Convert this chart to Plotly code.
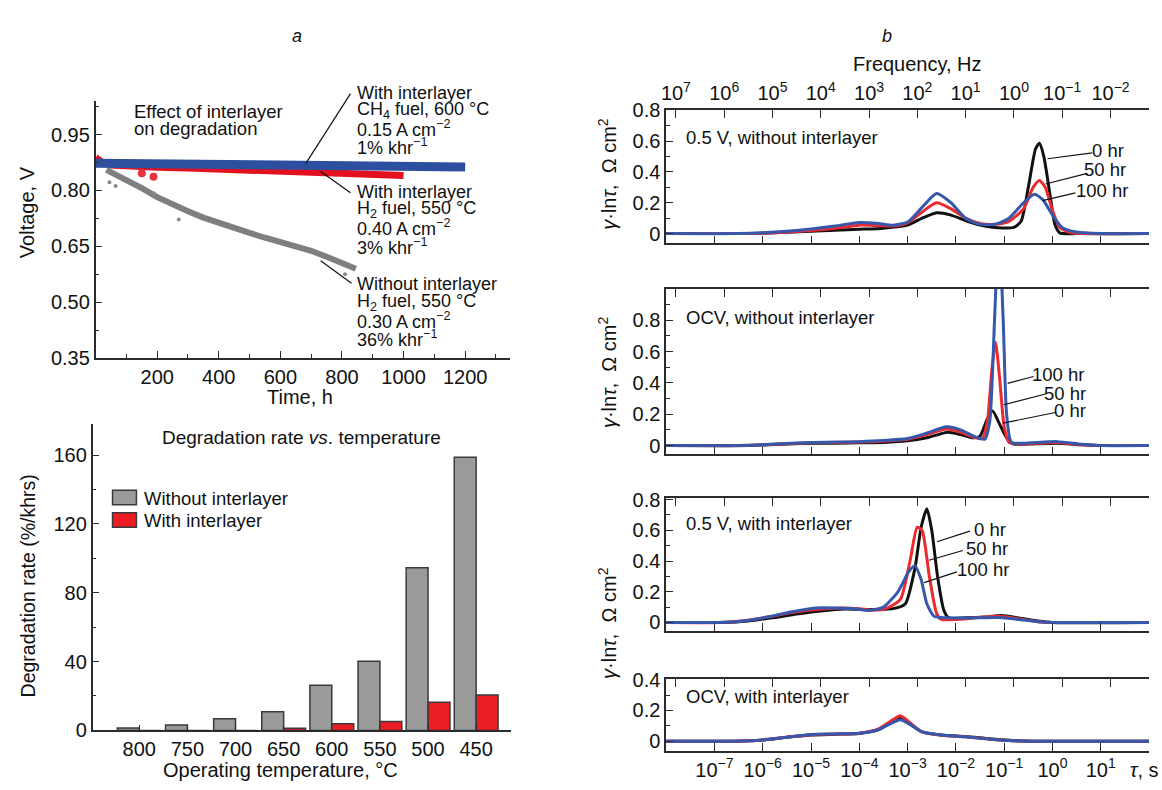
import numpy as np
import plotly.graph_objects as go

W, H = 1162, 790
def px(x): return x / W
def py(y): return 1 - y / H

FONT = "Liberation Sans, Arial, sans-serif"
AX = "#2b2b2b"

# ---------------- Panel a (top): voltage vs time ----------------
t_ch4 = [0, 100, 200, 300, 400, 500, 600, 700, 800, 900, 1000, 1100, 1200]
v_ch4 = [0.873, 0.872, 0.872, 0.871, 0.871, 0.870, 0.869, 0.868, 0.867, 0.866, 0.865, 0.864, 0.863]

t_h2_with = [0, 20, 50, 100, 200, 300, 400, 500, 600, 700, 800, 900, 1000]
v_h2_with = [0.888, 0.876, 0.868, 0.865, 0.862, 0.860, 0.857, 0.855, 0.852, 0.849, 0.846, 0.843, 0.840]
t_h2_with_out = [150, 188]
v_h2_with_out = [0.846, 0.837]

t_without = [35, 60, 80, 100, 150, 200, 250, 300, 350, 400, 450, 500, 550, 600, 650, 700, 750, 800, 845]
v_without = [0.855, 0.845, 0.838, 0.830, 0.806, 0.782, 0.761, 0.744, 0.727, 0.712, 0.698, 0.686, 0.673, 0.662, 0.650, 0.638, 0.622, 0.606, 0.590]
t_without_out = [45, 65, 190, 270, 810]
v_without_out = [0.822, 0.812, 0.792, 0.722, 0.575]

# ---------------- Panel a (bottom): degradation rate ----------------
temps = ["800", "750", "700", "650", "600", "550", "500", "450"]
rate_without = [1.4, 3.2, 6.8, 10.9, 26.2, 40.2, 94.5, 158.8]
rate_with = [0.0, 0.0, 0.0, 1.3, 3.8, 5.1, 16.4, 20.5]

# ---------------- Panel b: DRT curves (log10 tau, value) ----------------
# 0.5 V, without interlayer
p1_black_lt = [-8, -6.5, -6, -5, -4.5, -4, -3.5, -3, -2.7, -2.4, -2.1, -1.8, -1.5, -1.2, -0.8, -0.65, -0.5, -0.35, -0.27, -0.18, -0.05, 0.05, 0.15, 0.5, 2]
p1_black_v = [0, 0, 0.003, 0.015, 0.022, 0.028, 0.035, 0.055, 0.10, 0.135, 0.12, 0.085, 0.055, 0.04, 0.04, 0.08, 0.30, 0.55, 0.585, 0.50, 0.25, 0.06, 0.005, 0, 0]
p1_red_lt = [-8, -6.3, -6, -5.5, -5, -4.5, -4, -3.6, -3.3, -3.0, -2.7, -2.4, -2.1, -1.8, -1.5, -1.2, -0.9, -0.6, -0.4, -0.27, -0.15, 0, 0.15, 0.4, 0.7, 2]
p1_red_v = [0, 0, 0.003, 0.01, 0.02, 0.035, 0.055, 0.052, 0.05, 0.07, 0.14, 0.20, 0.16, 0.10, 0.065, 0.06, 0.08, 0.16, 0.30, 0.345, 0.30, 0.15, 0.04, 0.005, 0, 0]
p1_blue_lt = [-8, -6.5, -6, -5.5, -5, -4.5, -4.0, -3.6, -3.3, -3.0, -2.7, -2.4, -2.1, -1.8, -1.5, -1.2, -0.9, -0.6, -0.37, -0.2, 0, 0.2, 0.5, 1, 2]
p1_blue_v = [0, 0, 0.005, 0.015, 0.03, 0.05, 0.072, 0.065, 0.055, 0.075, 0.17, 0.26, 0.20, 0.10, 0.06, 0.06, 0.10, 0.20, 0.255, 0.22, 0.12, 0.04, 0.01, 0, 0]

# OCV, without interlayer
p2_black_lt = [-8, -6.5, -6, -5.5, -5, -4.5, -4, -3.5, -3, -2.6, -2.17, -1.9, -1.65, -1.5, -1.35, -1.24, -1.1, -0.95, -0.8, -0.5, 0.1, 0.6, 1.0, 2]
p2_black_v = [0, 0, 0.003, 0.01, 0.015, 0.015, 0.018, 0.02, 0.03, 0.05, 0.085, 0.07, 0.05, 0.06, 0.17, 0.22, 0.14, 0.05, 0.01, 0.01, 0.015, 0.005, 0, 0]
p2_red_lt = [-8, -6.3, -6, -5.5, -5, -4.5, -4, -3.5, -3, -2.6, -2.2, -1.9, -1.6, -1.45, -1.35, -1.25, -1.18, -1.1, -1.0, -0.9, -0.6, 0.1, 0.6, 1, 2]
p2_red_v = [0, 0, 0.005, 0.012, 0.018, 0.02, 0.022, 0.028, 0.04, 0.07, 0.105, 0.085, 0.05, 0.045, 0.15, 0.50, 0.66, 0.45, 0.12, 0.02, 0.01, 0.02, 0.005, 0, 0]
p2_blue_lt = [-8, -6.3, -6, -5.5, -5, -4.5, -4, -3.5, -3, -2.6, -2.2, -1.9, -1.6, -1.4, -1.3, -1.2, -1.11, -1.02, -0.95, -0.85, -0.6, 0.1, 0.6, 1, 2]
p2_blue_v = [0, 0, 0.005, 0.013, 0.02, 0.022, 0.025, 0.032, 0.045, 0.08, 0.12, 0.10, 0.055, 0.04, 0.15, 0.80, 1.40, 0.80, 0.20, 0.02, 0.015, 0.025, 0.008, 0, 0]

# 0.5 V, with interlayer
p3_black_lt = [-8, -6.8, -6.3, -5.8, -5.3, -4.8, -4.3, -3.9, -3.6, -3.3, -3.05, -2.85, -2.72, -2.6, -2.5, -2.38, -2.25, -2.15, -1.8, -1.4, -1.05, -0.7, -0.3, 0, 2]
p3_black_v = [0, 0, 0.01, 0.03, 0.055, 0.075, 0.088, 0.085, 0.085, 0.09, 0.12, 0.35, 0.62, 0.74, 0.60, 0.30, 0.08, 0.03, 0.03, 0.035, 0.045, 0.03, 0.01, 0, 0]
p3_red_lt = [-8, -6.9, -6.4, -5.9, -5.4, -4.9, -4.4, -4.0, -3.75, -3.45, -3.15, -2.95, -2.8, -2.7, -2.55, -2.4, -2.3, -2.0, -1.6, -1.1, -0.7, -0.3, 0, 2]
p3_red_v = [0, 0, 0.012, 0.035, 0.065, 0.085, 0.095, 0.09, 0.08, 0.09, 0.15, 0.40, 0.62, 0.60, 0.30, 0.06, 0.02, 0.02, 0.03, 0.04, 0.025, 0.005, 0, 0]
p3_blue_lt = [-8, -6.9, -6.4, -5.9, -5.4, -4.9, -4.5, -4.1, -3.8, -3.5, -3.2, -2.98, -2.85, -2.72, -2.6, -2.45, -2.2, -1.6, -1.1, -0.7, -0.3, 0, 2]
p3_blue_v = [0, 0, 0.01, 0.035, 0.07, 0.095, 0.095, 0.09, 0.078, 0.10, 0.20, 0.33, 0.37, 0.28, 0.12, 0.04, 0.03, 0.03, 0.032, 0.02, 0.005, 0, 0]

# OCV, with interlayer
p4_black_lt = [-8, -6.6, -6, -5.5, -5, -4.5, -4, -3.6, -3.35, -3.15, -2.95, -2.7, -2.3, -1.8, -1.3, -0.8, -0.4, 2]
p4_black_v = [0, 0, 0.008, 0.025, 0.04, 0.045, 0.05, 0.075, 0.12, 0.15, 0.11, 0.06, 0.04, 0.03, 0.015, 0.003, 0, 0]
p4_red_lt = [-8, -6.6, -6, -5.5, -5, -4.5, -4, -3.6, -3.35, -3.15, -2.95, -2.7, -2.3, -1.8, -1.3, -0.8, -0.4, 2]
p4_red_v = [0, 0, 0.008, 0.026, 0.042, 0.046, 0.052, 0.08, 0.13, 0.165, 0.12, 0.06, 0.038, 0.028, 0.012, 0.002, 0, 0]
p4_blue_lt = [-8, -6.6, -6, -5.5, -5, -4.5, -4, -3.6, -3.35, -3.15, -2.95, -2.7, -2.3, -1.8, -1.3, -0.8, -0.4, 2]
p4_blue_v = [0, 0, 0.008, 0.026, 0.043, 0.047, 0.052, 0.075, 0.115, 0.14, 0.11, 0.06, 0.04, 0.028, 0.013, 0.003, 0, 0]

tau_tick_exp = [-7, -6, -5, -4, -3, -2, -1, 0, 1]
freq_tick_exp = [7, 6, 5, 4, 3, 2, 1, 0, -1, -2]

def sup(e):
    s = str(e).replace("-", "\u2212")
    return f"10<sup>{s}</sup>"

C_BLACK = "#111111"
C_RED = "#ec2a2e"
C_BLUE = "#3558ad"

fig = go.Figure()

# ---- scatter panel
fig.add_trace(go.Scatter(x=t_h2_with, y=v_h2_with, mode="lines", line=dict(color="#e3101f", width=7),
                         xaxis="x", yaxis="y", showlegend=False, hoverinfo="skip"))
fig.add_trace(go.Scatter(x=t_h2_with_out, y=v_h2_with_out, mode="markers", marker=dict(color="#e8323a", size=8),
                         xaxis="x", yaxis="y", showlegend=False, hoverinfo="skip"))
fig.add_trace(go.Scatter(x=t_ch4, y=v_ch4, mode="lines", line=dict(color="#2d4f9f", width=9),
                         xaxis="x", yaxis="y", showlegend=False, hoverinfo="skip"))
fig.add_trace(go.Scatter(x=t_without, y=v_without, mode="lines", line=dict(color="#7f7f7f", width=6),
                         xaxis="x", yaxis="y", showlegend=False, hoverinfo="skip"))
fig.add_trace(go.Scatter(x=t_without_out, y=v_without_out, mode="markers", marker=dict(color="#8a8a8a", size=4),
                         xaxis="x", yaxis="y", showlegend=False, hoverinfo="skip"))

# ---- bar panel
fig.add_trace(go.Bar(x=temps, y=rate_without, marker=dict(color="#9a9a9a", line=dict(color="#3a3a3a", width=1.5)),
                     xaxis="x2", yaxis="y2", showlegend=False, hoverinfo="skip"))
fig.add_trace(go.Bar(x=temps, y=rate_with, marker=dict(color="#ec1c24", line=dict(color="#3a3a3a", width=1.5)),
                     xaxis="x2", yaxis="y2", showlegend=False, hoverinfo="skip"))

# ---- DRT panels
panels = [
    (p1_black_lt, p1_black_v, p1_red_lt, p1_red_v, p1_blue_lt, p1_blue_v),
    (p2_black_lt, p2_black_v, p2_red_lt, p2_red_v, p2_blue_lt, p2_blue_v),
    (p3_black_lt, p3_black_v, p3_red_lt, p3_red_v, p3_blue_lt, p3_blue_v),
    (p4_black_lt, p4_black_v, p4_red_lt, p4_red_v, p4_blue_lt, p4_blue_v),
]
for i, (bl, bv, rl, rv, ul, uv) in enumerate(panels):
    xa, ya = f"x{i+3}", f"y{i+3}"
    for lt, v, c in [(bl, bv, C_BLACK), (rl, rv, C_RED), (ul, uv, C_BLUE)]:
        fig.add_trace(go.Scatter(x=10 ** np.array(lt, dtype=float), y=v, mode="lines",
                                 line=dict(color=c, width=3, shape="spline", smoothing=0.6),
                                 xaxis=xa, yaxis=ya, showlegend=False, hoverinfo="skip", cliponaxis=True))
    # dummy trace for top (frequency) axis
    fig.add_trace(go.Scatter(x=[1e-8, 1e2], y=[None, None], mode="lines", xaxis=f"x{i+7}", yaxis=ya,
                             showlegend=False, hoverinfo="skip"))

tick_font = dict(family=FONT, size=20, color="#111")

common = dict(showgrid=False, zeroline=False, showline=True, linecolor=AX, linewidth=1.5,
              ticks="inside", tickcolor=AX, tickwidth=1.3, tickfont=tick_font)

layout = dict(
    width=W, height=H, autosize=False,
    margin=dict(l=0, r=0, t=0, b=0),
    paper_bgcolor="white", plot_bgcolor="rgba(0,0,0,0)",
    font=dict(family=FONT, size=18, color="#111"),
    barmode="group", bargap=0.09, bargroupgap=0.0,
    xaxis=dict(domain=[px(91), px(507)], anchor="y", range=[0, 1345],
               tickvals=[200, 400, 600, 800, 1000, 1200], ticklen=7,
               minor=dict(tickvals=[100, 300, 500, 700, 900, 1100, 1300], ticks="inside", ticklen=4, tickcolor=AX),
               **common),
    yaxis=dict(domain=[py(357), py(93)], anchor="x", range=[0.35, 1.039],
               tickvals=[0.35, 0.5, 0.65, 0.8, 0.95], ticktext=["0.35", "0.50", "0.65", "0.80", "0.95"], ticklen=7,
               minor=dict(tickvals=[0.425, 0.575, 0.725, 0.875, 1.025], ticks="inside", ticklen=4, tickcolor=AX),
               **common),
    xaxis2=dict(domain=[px(88), px(508)], anchor="y2", type="category", range=[-0.97, 7.72], ticklen=6,
                **common),
    yaxis2=dict(domain=[py(740), py(425)], anchor="x2", range=[0, 178],
                tickvals=[0, 40, 80, 120, 160], ticklen=7,
                minor=dict(tickvals=[20, 60, 100, 140], ticks="inside", ticklen=4, tickcolor=AX),
                **common),
)

panel_y = [(102, 239), (286, 456), (501, 638), (687, 761)]
panel_range = [(-0.063, 0.8), (-0.056, 1.0), (-0.057, 0.81), (-0.063, 0.406)]
panel_ticks = [[0, 0.2, 0.4, 0.6, 0.8], [0, 0.2, 0.4, 0.6, 0.8], [0, 0.2, 0.4, 0.6, 0.8], [0, 0.2, 0.4]]
panel_minor = [[0.1, 0.3, 0.5, 0.7], [0.1, 0.3, 0.5, 0.7, 0.9, 1.0], [0.1, 0.3, 0.5, 0.7], [0.1, 0.3]]

tau_vals = [10.0 ** e for e in tau_tick_exp]
freq_pos = [1.0 / (2 * np.pi * 10.0 ** e) for e in freq_tick_exp]

for i in range(4):
    y0, y1 = panel_y[i]
    n = i + 3
    layout[f"xaxis{n}"] = dict(domain=[px(664), px(1149)], anchor=f"y{n}", type="log", range=[-8, 2],
                               tickvals=tau_vals, ticktext=[sup(e) for e in tau_tick_exp],
                               showticklabels=(i == 3), ticklen=8, **common)
    layout[f"xaxis{n+4}"] = dict(overlaying=f"x{n}", anchor=f"y{n}", side="top", type="log", range=[-8, 2],
                                 tickvals=freq_pos, ticktext=[sup(e) for e in freq_tick_exp],
                                 showticklabels=(i == 0), ticklen=8, **common)
    layout[f"yaxis{n}"] = dict(domain=[py(y1), py(y0)], anchor=f"x{n}", range=list(panel_range[i]),
                               tickvals=panel_ticks[i], ticktext=["0" if v == 0 else f"{v:.1f}" for v in panel_ticks[i]],
                               ticklen=7,
                               minor=dict(tickvals=panel_minor[i], ticks="inside", ticklen=4, tickcolor=AX),
                               **common)

fig.update_layout(**layout)

ann = []
def text(x, y, s, size=18.5, xanchor="left", yanchor="middle", angle=0, italic=False):
    ann.append(dict(x=px(x), y=py(y), xref="paper", yref="paper", text=s, showarrow=False,
                    xanchor=xanchor, yanchor=yanchor, textangle=angle,
                    font=dict(family=FONT, size=size, color="#111",
                              style="italic" if italic else "normal")))

# panel letters
text(293, 26, "a", size=18, xanchor="center", italic=True)
text(886, 26, "b", size=18, xanchor="center", italic=True)

# scatter panel texts
text(128, 103, "Effect of interlayer")
text(128, 121, "on degradation")
blocks = [
    (84, ["With interlayer", "CH<sub>4</sub> fuel, 600 °C", "0.15 A cm<sup>\u22122</sup>", "1% khr<sup>\u22121</sup>"]),
    (186, ["With interlayer", "H<sub>2</sub> fuel, 550 °C", "0.40 A cm<sup>\u22122</sup>", "3% khr<sup>\u22121</sup>"]),
    (281, ["Without interlayer", "H<sub>2</sub> fuel, 550 °C", "0.30 A cm<sup>\u22122</sup>", "36% khr<sup>\u22121</sup>"]),
]
for y0, lines in blocks:
    for k, s in enumerate(lines):
        text(352, y0 + k * 18.6, s, size=18)
text(22, 207, "Voltage, V", size=20, xanchor="center", angle=-90)
text(296, 397, "Time, h", size=20, xanchor="center")

# bar panel texts
text(298, 439, "Degradation rate <i>vs</i>. temperature", size=19, xanchor="center")
text(23, 591, "Degradation rate (%/khrs)", size=19.5, xanchor="center", angle=-90)
text(277, 781, "Operating temperature, °C", size=20, xanchor="center")
text(138, 501, "Without interlayer")
text(138, 524, "With interlayer")

# right panel texts
text(916, 55, "Frequency, Hz", size=20, xanchor="center")
ytitle = "<i>γ</i>\u00b7ln<i>τ</i>,  Ω cm<sup>2</sup>"
for yc in [167, 371, 629]:
    text(605, yc, ytitle, size=20, xanchor="center", angle=-90)
text(682, 130, "0.5 V, without interlayer")
text(682, 315, "OCV, without interlayer")
text(682, 527, "0.5 V, with interlayer")
text(682, 705, "OCV, with interlayer")
text(1144, 781, "<i>τ</i>, s", size=20, xanchor="center")

for x, y, s in [(1126, 143, "0 hr"), (1128, 163, "50 hr"), (1130, 185, "100 hr"),
                (1086, 374, "100 hr"), (1088, 393, "50 hr"), (1088, 411, "0 hr"),
                (1007, 533, "0 hr"), (1009, 553, "50 hr"), (1010, 575, "100 hr")]:
    text(x, y, s, xanchor="right")

fig.update_layout(annotations=ann)

shapes = []
def seg(x0, y0, x1, y1):
    shapes.append(dict(type="line", xref="paper", yref="paper", x0=px(x0), y0=py(y0), x1=px(x1), y1=py(y1),
                       line=dict(color="#111", width=1.2)))
seg(347, 85, 302, 157)
seg(347, 187, 317, 165)
seg(348, 280, 317, 257)
seg(1047, 152, 1092, 146); seg(1045, 178, 1087, 167); seg(1042, 195, 1075, 187)
seg(1007, 383, 1033, 376); seg(1003, 405, 1045, 394); seg(1002, 424, 1055, 413)
seg(936, 546, 969, 535); seg(928, 565, 962, 555); seg(923, 588, 956, 577)

# legend boxes of bar chart
for (y0, y1, col) in [(493, 508, "#9a9a9a"), (516, 531, "#ec1c24")]:
    shapes.append(dict(type="rect", xref="paper", yref="paper", x0=px(108), x1=px(132), y0=py(y1), y1=py(y0),
                       fillcolor=col, line=dict(color="#3a3a3a", width=1.5)))
fig.update_layout(shapes=shapes)

fig.write_html("out.html", config={"displayModeBar": False},
               post_script="document.body.style.margin='0px';document.body.style.padding='0px';"
                           "document.body.style.overflow='hidden';")
